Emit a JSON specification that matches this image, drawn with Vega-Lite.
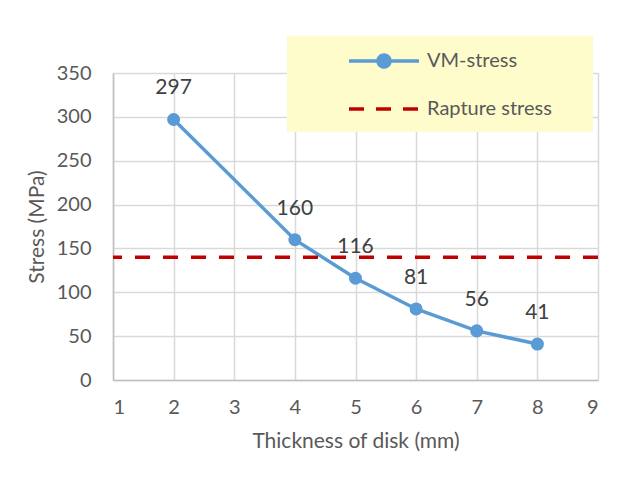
{
  "$schema": "https://vega.github.io/schema/vega-lite/v6.json",
  "autosize": "none",
  "width": 485,
  "height": 307,
  "padding": {"left": 113, "top": 73, "right": 23, "bottom": 97},
  "background": "white",
  "config": {
    "view": {"stroke": null},
    "font": "Lato",
    "axis": {
      "labelFont": "Lato", "labelFontSize": 20, "labelColor": "#595959",
      "titleFont": "Lato", "titleFontSize": 21, "titleColor": "#595959", "titleFontWeight": "normal",
      "gridColor": "#D9D9D9", "gridWidth": 1.5, "domainColor": "#BFBFBF", "domainWidth": 1.5, "ticks": false
    }
  },
  "datasets": {
    "vm": [
      {"thickness": 2, "stress": 297, "series": "VM-stress"},
      {"thickness": 4, "stress": 160, "series": "VM-stress"},
      {"thickness": 5, "stress": 116, "series": "VM-stress"},
      {"thickness": 6, "stress": 81, "series": "VM-stress"},
      {"thickness": 7, "stress": 56, "series": "VM-stress"},
      {"thickness": 8, "stress": 41, "series": "VM-stress"}
    ],
    "rapture": [
      {"stress": 140, "series": "Rapture stress"}
    ]
  },
  "layer": [
    {
      "data": {"name": "vm"},
      "mark": {"type": "line", "strokeWidth": 3.5, "point": {"filled": true, "size": 170, "opacity": 1}},
      "encoding": {
        "x": {"field": "thickness", "type": "quantitative",
          "scale": {"domain": [1, 9], "nice": false},
          "axis": {"values": [1, 2, 3, 4, 5, 6, 7, 8, 9], "title": "Thickness of disk (mm)", "labelPadding": 17, "titlePadding": 13, "format": "d"}},
        "y": {"field": "stress", "type": "quantitative",
          "scale": {"domain": [0, 350], "nice": false},
          "axis": {"values": [0, 50, 100, 150, 200, 250, 300, 350], "title": "Stress (MPa)", "labelPadding": 22, "titlePadding": 9}},
        "color": {"field": "series", "type": "nominal",
          "scale": {"domain": ["VM-stress", "Rapture stress"], "range": ["#5B9BD5", "#C00000"]},
          "legend": {
            "title": " ",
            "titleOrient": "right", "titlePadding": 28, "titleFontSize": 8,
            "orient": "none", "legendX": 174, "legendY": -37,
            "fillColor": "#FFFCCC", "padding": 13,
            "symbolOffset": 72, "symbolSize": 400, "labelOffset": 31,
            "rowPadding": 23,
            "labelFont": "Lato", "labelFontSize": 20, "labelColor": "#595959",
            "encode": {
              "symbols": {"update": {
                "shape": {"signal": "datum.value === 'VM-stress' ? 'M-3.5,0H3.5M0.6,0A0.6,0.6,0,1,1,-0.6,0A0.6,0.6,0,1,1,0.6,0Z' : 'M-3.5,0H3.5'"},
                "fill": {"signal": "datum.value === 'VM-stress' ? '#5B9BD5' : 'transparent'"},
                "stroke": {"signal": "datum.value === 'VM-stress' ? '#5B9BD5' : '#C00000'"},
                "strokeDash": {"signal": "datum.value === 'VM-stress' ? [1, 0] : [15, 12]"},
                "strokeWidth": {"value": 3.5},
                "opacity": {"value": 1},
                "size": {"value": 400}
              }}
            }
          }}
      }
    },
    {
      "data": {"name": "vm"},
      "mark": {"type": "text", "dy": -31, "fontSize": 21, "font": "Lato", "color": "#404040"},
      "encoding": {
        "x": {"field": "thickness", "type": "quantitative"},
        "y": {"field": "stress", "type": "quantitative"},
        "text": {"field": "stress", "type": "quantitative"}
      }
    },
    {
      "data": {"name": "rapture"},
      "mark": {"type": "rule", "strokeWidth": 3.5, "strokeDash": [15, 13]},
      "encoding": {
        "y": {"field": "stress", "type": "quantitative"},
        "color": {"field": "series", "type": "nominal"}
      }
    }
  ]
}
